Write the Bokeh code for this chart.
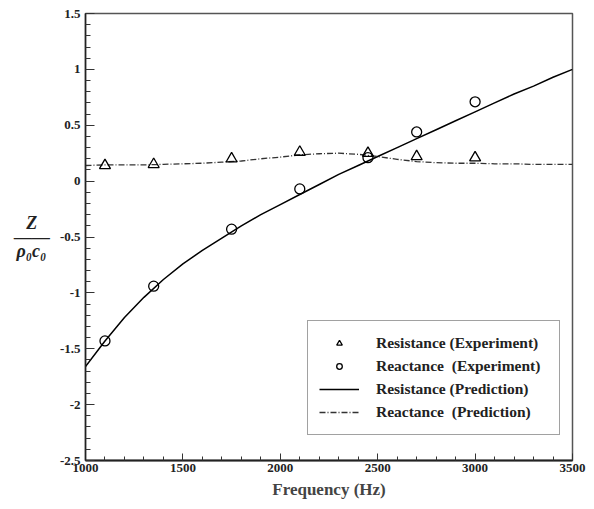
from bokeh.plotting import figure
from bokeh.models import (Range1d, SingleIntervalTicker, CustomJSTickFormatter,
                          Legend, LegendItem)
from bokeh.embed import file_html
from bokeh.resources import INLINE

# ---- data ----
freq_exp = [1100, 1350, 1750, 2100, 2450, 2700, 3000]
resistance_exp = [0.14, 0.15, 0.20, 0.26, 0.25, 0.22, 0.21]
reactance_exp = [-1.43, -0.94, -0.43, -0.07, 0.21, 0.44, 0.71]

freq_pred = [1000, 1100, 1200, 1300, 1400, 1500, 1600, 1700, 1800, 1900,
             2000, 2100, 2200, 2300, 2400, 2500, 2600, 2700, 2800, 2900,
             3000, 3100, 3200, 3300, 3400, 3500]
solid_pred = [-1.66, -1.43, -1.22, -1.04, -0.88, -0.74, -0.62, -0.51, -0.40, -0.30,
              -0.21, -0.12, -0.03, 0.06, 0.14, 0.22, 0.30, 0.38, 0.46, 0.54,
              0.62, 0.70, 0.78, 0.85, 0.93, 1.00]
dashdot_pred = [0.14, 0.145, 0.145, 0.145, 0.15, 0.155, 0.16, 0.17, 0.18, 0.20,
                0.215, 0.235, 0.245, 0.25, 0.24, 0.22, 0.195, 0.175, 0.165, 0.16,
                0.16, 0.155, 0.155, 0.15, 0.15, 0.15]

legend_labels = ["Resistance (Experiment)", "Reactance  (Experiment)",
                 "Resistance (Prediction)", "Reactance  (Prediction)"]

FONT = "Liberation Serif"

p = figure(width=594, height=509, output_backend="svg", toolbar_location=None,
           x_range=Range1d(1000, 3500), y_range=Range1d(-2.5, 1.5),
           min_border_left=85, min_border_right=22, min_border_top=13,
           min_border_bottom=49)
p.frame_width = 487
p.frame_height = 447

p.xgrid.visible = False
p.ygrid.visible = False
p.outline_line_color = "#555555"
p.outline_line_width = 1.5
p.background_fill_color = "white"
p.border_fill_color = "white"

p.xaxis.ticker = SingleIntervalTicker(interval=500, num_minor_ticks=5)
p.yaxis.ticker = SingleIntervalTicker(interval=0.5, num_minor_ticks=5)
p.xaxis.formatter = CustomJSTickFormatter(code="return tick.toString();")
p.yaxis.formatter = CustomJSTickFormatter(code="return (Math.round(tick*10)/10).toString();")

for ax in (p.xaxis[0], p.yaxis[0]):
    ax.major_tick_out = 0
    ax.minor_tick_out = 0
    ax.major_label_text_font = FONT
    ax.major_label_text_font_style = "bold"
    ax.major_label_text_font_size = "13px"
    ax.major_label_text_color = "#222222"
    ax.axis_line_color = "#222222"
    ax.major_tick_line_color = "#333333"
    ax.minor_tick_line_color = "#333333"

p.xaxis.major_tick_in = 7
p.xaxis.minor_tick_in = 4
p.xaxis.axis_line_width = 2
p.xaxis.major_label_standoff = 3
p.yaxis.major_tick_in = 9
p.yaxis.minor_tick_in = 5
p.yaxis.axis_line_width = 1.5
p.yaxis.major_label_standoff = 5

p.xaxis.axis_label = "Frequency (Hz)"
p.xaxis.axis_label_text_font = FONT
p.xaxis.axis_label_text_font_style = "bold"
p.xaxis.axis_label_text_font_size = "17px"
p.xaxis.axis_label_standoff = 5

# y-axis label: fraction Z over rho0 c0 (lines are right-aligned, so pad to centre)
p.yaxis.axis_label = "Z\u2002\u2009\n——\nρ₀c₀\u2009"
p.yaxis.axis_label_orientation = "horizontal"
p.yaxis.axis_label_text_font = FONT
p.yaxis.axis_label_text_font_style = "bold italic"
p.yaxis.axis_label_text_font_size = "18px"
p.yaxis.axis_label_text_color = "#222222"
p.yaxis.axis_label_text_line_height = 0.72
p.yaxis.axis_label_standoff = 7

# predictions
r_solid = p.line(freq_pred, solid_pred, line_color="black", line_width=1.5)
r_dash = p.line(freq_pred, dashdot_pred, line_color="#333333", line_width=1.3,
                line_dash="6 2 1 2")
# experiments
r_tri = p.scatter(freq_exp, resistance_exp, marker="triangle", size=11,
                  fill_color=None, line_color="black", line_width=1.3)
r_cir = p.scatter(freq_exp, reactance_exp, marker="circle", size=10,
                  fill_color=None, line_color="black", line_width=1.3)

legend = Legend(items=[
    LegendItem(label=legend_labels[0], renderers=[r_tri]),
    LegendItem(label=legend_labels[1], renderers=[r_cir]),
    LegendItem(label=legend_labels[2], renderers=[r_solid]),
    LegendItem(label=legend_labels[3], renderers=[r_dash]),
], location=(222, 25))
legend.label_text_font = FONT
legend.label_text_font_style = "bold"
legend.label_text_font_size = "15.5px"
legend.label_text_color = "#222222"
legend.padding = 11
legend.spacing = 1
legend.glyph_width = 40
legend.label_height = 22
legend.label_width = 172
legend.glyph_height = 14
legend.label_standoff = 17
legend.border_line_color = "#444444"
legend.border_line_width = 1.5
legend.background_fill_alpha = 1.0
legend.margin = 0
p.add_layout(legend, "center")

open("out.html", "w").write(file_html(p, INLINE))
